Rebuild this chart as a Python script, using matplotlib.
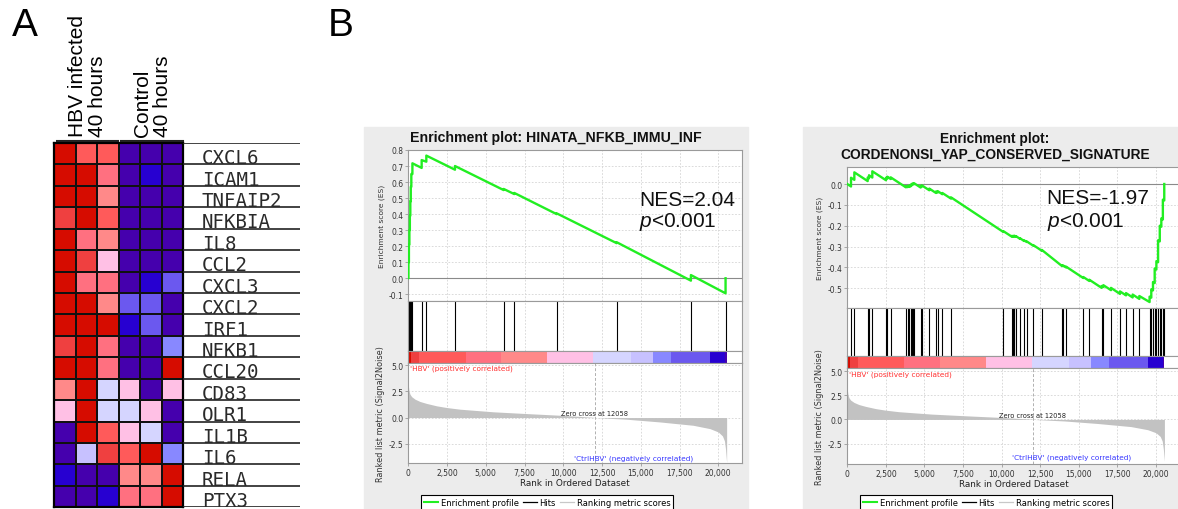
import matplotlib
matplotlib.use('Agg')
import matplotlib.pyplot as plt
import numpy as np
from matplotlib.colors import ListedColormap
from matplotlib.lines import Line2D
from matplotlib.patches import Rectangle
from matplotlib.ticker import FuncFormatter

plt.rcParams['font.family'] = 'DejaVu Sans'
plt.rcParams['mathtext.fontset'] = 'custom'
plt.rcParams['mathtext.it'] = 'Liberation Sans:italic'
plt.rcParams['mathtext.rm'] = 'Liberation Sans'

# ---- panel A: heatmap (GSEA palette index, 0 = lowest / 11 = highest) ----
palette = ['#4500AD', '#2700D1', '#6B58EF', '#8888FF', '#C7C1FF', '#D5D5FF',
           '#FFC0E5', '#FF8989', '#FF7080', '#FF5A5A', '#EF4040', '#D60C00']
genes = ['CXCL6', 'ICAM1', 'TNFAIP2', 'NFKBIA', 'IL8', 'CCL2', 'CXCL3', 'CXCL2',
         'IRF1', 'NFKB1', 'CCL20', 'CD83', 'OLR1', 'IL1B', 'IL6', 'RELA', 'PTX3']
levels = [
    [11, 9, 9, 0, 0, 0],
    [11, 11, 8, 0, 1, 0],
    [11, 11, 7, 0, 0, 0],
    [10, 11, 9, 0, 0, 0],
    [11, 8, 7, 0, 0, 0],
    [11, 10, 6, 0, 0, 0],
    [11, 8, 8, 0, 1, 2],
    [11, 11, 7, 2, 2, 0],
    [11, 11, 11, 1, 2, 0],
    [10, 11, 8, 0, 0, 3],
    [11, 11, 8, 0, 0, 11],
    [7, 11, 5, 6, 0, 6],
    [6, 11, 5, 5, 6, 0],
    [0, 11, 9, 6, 5, 0],
    [0, 4, 10, 9, 11, 3],
    [1, 0, 0, 7, 7, 11],
    [0, 0, 1, 8, 8, 11],
]
group_labels = ['HBV infected\n40 hours', 'Control\n40 hours']

# ---- panel B: shared ranked list ----
metric_rank = [0, 43, 107, 215, 430, 750, 1180, 1830, 2470, 3330, 5480, 7630,
               9780, 11930, 12058, 14080, 16230, 18380, 19460, 20000, 20270,
               20400, 20470, 20500, 20540]
metric_val = [3.1, 2.56, 2.24, 2.0, 1.76, 1.54, 1.35, 1.12, 0.96, 0.80, 0.55, 0.38,
              0.22, 0.03, 0.0, -0.16, -0.42, -0.74, -1.06, -1.38, -1.76,
              -2.24, -3.04, -3.6, -4.3]
cbar_edges = [0, 200, 711, 3700, 5979, 8967, 11935, 14360, 15800, 16920, 19460,
              20448, 20540]
cbar_colors = ['#D60C00', '#EF4040', '#FF5A5A', '#FF7080', '#FF8989', '#FFC0E5',
               '#D5D5FF', '#C7C1FF', '#8888FF', '#6B58EF', '#2700D1', '#4500AD']
zero_cross = 12058

# HINATA_NFKB_IMMU_INF: hit ranks, ES just before / after each hit
hits1 = [10, 40, 70, 100, 130, 160, 195, 265, 862, 1163, 3012, 6151, 6839,
         9570, 13440, 18234, 20470]
es1_pre = [0.0, 0.10, 0.21, 0.30, 0.39, 0.48, 0.57, 0.65, 0.688, 0.727, 0.677,
           0.55, 0.525, 0.40, 0.219, -0.015, -0.094]
es1_post = [0.10, 0.21, 0.30, 0.39, 0.48, 0.57, 0.65, 0.717, 0.737, 0.765, 0.700,
            0.557, 0.532, 0.405, 0.225, 0.020, 0.0]

# CORDENONSI_YAP_CONSERVED_SIGNATURE
hits2 = [240, 456, 1320, 1405, 1620, 2507, 2593, 2809, 3800, 3910, 4018, 4104,
         4169, 4234, 4320, 4752, 4817, 5313, 5745, 5853, 6155, 6717, 10106,
         10646, 10711, 10775, 10819, 10927, 11186, 11445, 11618, 12049, 12600,
         13884, 13990, 14166, 15288, 15676, 16475, 16583, 17080, 17663, 18052,
         18483, 18915, 19580, 19690, 19800, 19910, 20020, 20130, 20240, 20340,
         20440, 20530]
es2_pre = [-0.012, 0.020, 0.014, 0.027, 0.031, 0.018, 0.026, 0.024, -0.016,
           -0.015, -0.014, -0.011, -0.007, -0.003, -0.001, -0.017, -0.013,
           -0.030, -0.043, -0.041, -0.049, -0.070, -0.230, -0.252, -0.252,
           -0.252, -0.251, -0.253, -0.263, -0.273, -0.278, -0.296, -0.320,
           -0.392, -0.394, -0.400, -0.451, -0.465, -0.498, -0.494, -0.509,
           -0.527, -0.534, -0.544, -0.551, -0.566, -0.545, -0.510, -0.475,
           -0.410, -0.375, -0.275, -0.205, -0.170, -0.079]
es2_post = [0.030, 0.056, 0.031, 0.042, 0.061, 0.030, 0.035, 0.032, -0.010,
            -0.009, -0.007, -0.004, 0.000, 0.003, 0.004, -0.010, -0.006,
            -0.022, -0.036, -0.034, -0.043, -0.064, -0.226, -0.249, -0.249,
            -0.249, -0.248, -0.250, -0.260, -0.270, -0.275, -0.293, -0.316,
            -0.389, -0.391, -0.396, -0.446, -0.459, -0.489, -0.485, -0.498,
            -0.515, -0.523, -0.530, -0.537, -0.540, -0.505, -0.470, -0.405,
            -0.370, -0.270, -0.200, -0.165, -0.075, 0.000]

W, H = 1178, 510
fig = plt.figure(figsize=(W / 100, H / 100), dpi=100)


def box(x0, y0, x1, y1):
    # pixel box (top-left origin) -> figure fraction
    return [x0 / W, 1 - y1 / H, (x1 - x0) / W, (y1 - y0) / H]


# ---------------- panel A ----------------
ax = fig.add_axes(box(54.3, 144, 183.3, 508.3))
ax.pcolormesh(np.array(levels), cmap=ListedColormap(palette), vmin=-0.5, vmax=11.5,
              edgecolors='#111111', linewidth=1.2)
ax.set_xlim(0, 6)
ax.set_ylim(len(genes), 0)
ax.set_xticks([])
ax.set_yticks([])
for s in ax.spines.values():
    s.set_linewidth(1.6)

lab = fig.add_axes(box(183.3, 144, 300, 508.3))
lab.set_xlim(0, 1)
lab.set_ylim(len(genes), 0)
lab.axis('off')
lab.hlines(range(len(genes) + 1), 0, 1, color='#222222', lw=1.2)
for i, g in enumerate(genes):
    lab.text(0.158, i + 1 - 0.06, g, family='DejaVu Sans Mono', fontsize=13.8,
             ha='left', va='baseline', color='#2a2a2a')

for xc, txt in zip([87.5, 152.5], group_labels):
    fig.text(xc / W, 1 - 137 / H, txt, rotation=90, ha='center', va='bottom',
             multialignment='left', fontsize=15, family='Liberation Sans',
             linespacing=1.1)
for xa, xb in [(57, 118), (121, 183)]:
    fig.add_artist(Line2D([xa / W, xb / W], [1 - 141.7 / H] * 2, color='#222222', lw=1.5))

fig.text(25 / W, 1 - 26 / H, 'A', fontsize=28, ha='center', va='center',
         family='Liberation Sans')
fig.text(341 / W, 1 - 26 / H, 'B', fontsize=28, ha='center', va='center',
         family='Liberation Sans')

# ---------------- panel B ----------------
XMAX = 21550
grid_kw = dict(color='#d4d4d4', lw=0.6, linestyle=(0, (2, 2)))
comma = FuncFormatter(lambda v, p: f'{int(v):,}')
one_dec = FuncFormatter(lambda v, p: f'{v + 0.0:.1f}' if abs(v) > 1e-9 else '0.0')


def style(a):
    for s in a.spines.values():
        s.set_color('#9a9a9a')
        s.set_linewidth(0.8)
    a.set_xlim(0, XMAX)
    a.set_xticks(range(0, 20001, 2500))
    a.tick_params(colors='#9a9a9a', labelcolor='#333333', length=2, width=0.6,
                  labelsize=5.5, pad=1.5)
    a.grid(axis='x', **grid_kw)
    a.set_axisbelow(True)


def draw_gsea(x0, x1, ys, es_lim, es_ticks, hits, pre, post, m_lim, nes, nes_xy):
    ax_es = fig.add_axes(box(x0, ys[0], x1, ys[1]))
    style(ax_es)
    xs, vs = [0], [0.0]
    for h, a, b in zip(hits, pre, post):
        xs += [h, h]
        vs += [a, b]
    ax_es.plot(xs, vs, color='#22ee22', lw=1.7, zorder=3)
    ax_es.axhline(0, color='#8a8a8a', lw=0.8, zorder=2)
    ax_es.set_ylim(*es_lim)
    ax_es.set_yticks(es_ticks)
    ax_es.yaxis.set_major_formatter(one_dec)
    ax_es.grid(axis='y', **grid_kw)
    ax_es.tick_params(axis='x', length=0, labelbottom=False)
    ax_es.set_ylabel('Enrichment score (ES)', fontsize=5.4, color='#333333', labelpad=3)
    ax_es.text(nes_xy[0], nes_xy[1], nes, fontsize=15, family='Liberation Sans',
               va='center', ha='left', color='#111111')
    ax_es.text(nes_xy[0], nes_xy[2], r'$\mathit{p}$<0.001', fontsize=15,
               family='Liberation Sans', va='center', ha='left', color='#111111')

    ax_h = fig.add_axes(box(x0, ys[1], x1, ys[2]))
    style(ax_h)
    ax_h.vlines(hits, 0, 1, color='black', lw=0.8)
    ax_h.set_ylim(0, 1)
    ax_h.set_yticks([])
    ax_h.tick_params(axis='x', length=0, labelbottom=False)

    ax_c = fig.add_axes(box(x0, ys[2], x1, ys[3]))
    style(ax_c)
    ax_c.bar(cbar_edges[:-1], 1, width=np.diff(cbar_edges), align='edge',
             color=cbar_colors, lw=0)
    ax_c.set_ylim(0, 1)
    ax_c.set_yticks([])
    ax_c.tick_params(axis='x', length=0, labelbottom=False)

    ax_m = fig.add_axes(box(x0, ys[3], x1, ys[4]))
    style(ax_m)
    ax_m.fill_between(metric_rank, metric_val, 0, color='#c2c2c2', lw=0)
    ax_m.axvline(zero_cross, color='#b0b0b0', lw=0.7, linestyle=(0, (3, 2)))
    ax_m.set_ylim(*m_lim)
    ax_m.set_yticks([-2.5, 0.0, 2.5, 5.0])
    ax_m.yaxis.set_major_formatter(one_dec)
    ax_m.grid(axis='y', **grid_kw)
    ax_m.xaxis.set_major_formatter(comma)
    ax_m.set_xlabel('Rank in Ordered Dataset', fontsize=6.4, color='#222222', labelpad=1)
    ax_m.set_ylabel('Ranked list metric (Signal2Noise)', fontsize=5.9,
                    color='#333333', labelpad=3)
    ax_m.text(110, 4.75, "'HBV' (positively correlated)", fontsize=5.3, color='#ff3030',
              va='center', ha='left')
    ax_m.text(zero_cross - 60, 0.15, 'Zero cross at 12058', fontsize=4.8,
              color='#222222', va='bottom', ha='center')
    ax_m.text(18400, -3.8, "'CtrlHBV' (negatively correlated)", fontsize=5.3,
              color='#3535ff', va='center', ha='right')


# grey GSEA backgrounds
for xa, xb in [(364, 748), (803, 1178)]:
    fig.add_artist(Rectangle((xa / W, 0), (xb - xa) / W, 1 - 128 / H,
                             transform=fig.transFigure, color='#ececec', zorder=-5))

draw_gsea(408.3, 742.3, (150.5, 301.7, 351.5, 363.8, 464), (-0.14, 0.803),
          np.round(np.arange(-0.1, 0.81, 0.1), 1), hits1, es1_pre, es1_post,
          (-4.35, 5.24), 'NES=2.04', (14880, 0.494, 0.357))
draw_gsea(847.3, 1180, (167.7, 309.3, 356.7, 369.3, 465), (-0.596, 0.083),
          np.round(np.arange(-0.5, 0.01, 0.1), 1), hits2, es2_pre, es2_post,
          (-4.6, 5.28), 'NES=-1.97', (12915, -0.067, -0.177))

fig.text(555.5 / W, 1 - 138 / H, 'Enrichment plot: HINATA_NFKB_IMMU_INF',
         fontsize=10.2, fontweight='bold', ha='center', va='center',
         family='Liberation Sans', color='#111111')
fig.text(995 / W, 1 - 147 / H, 'Enrichment plot:\nCORDENONSI_YAP_CONSERVED_SIGNATURE',
         fontsize=9.9, fontweight='bold', ha='center', va='center',
         family='Liberation Sans', color='#111111', linespacing=1.15)

handles = [Line2D([], [], color='#22ee22', lw=1.5),
           Line2D([], [], color='black', lw=0.9),
           Line2D([], [], color='#c8c8c8', lw=0.9)]
names = ['Enrichment profile', 'Hits', 'Ranking metric scores']
for xl in [421, 860]:
    leg = fig.legend(handles, names, loc='upper left', bbox_to_anchor=(xl / W, 1 - 496 / H),
                     ncol=3, fontsize=6.0, frameon=True, fancybox=False,
                     edgecolor='black', framealpha=1, borderpad=0.35,
                     handlelength=1.7, handletextpad=0.3, columnspacing=0.5,
                     borderaxespad=0)
    leg.get_frame().set_linewidth(0.8)

fig.savefig('out.png', dpi=100)
plt.close(fig)
